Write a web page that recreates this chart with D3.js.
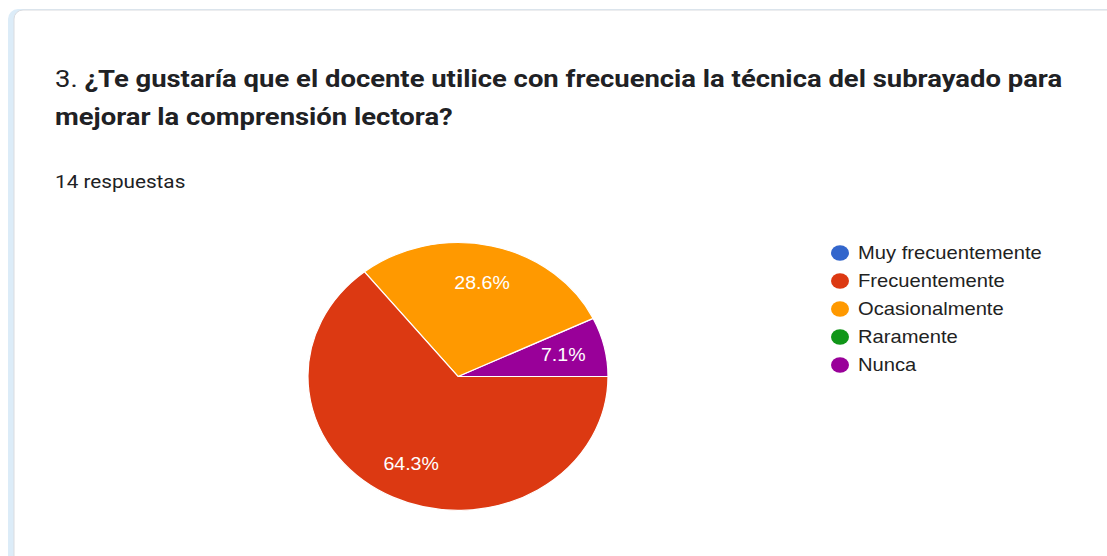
<!DOCTYPE html>
<html>
<head>
<meta charset="utf-8">
<script src="https://cdn.jsdelivr.net/npm/d3@7"></script>
<style>
  html, body { margin: 0; padding: 0; background: #ffffff; }
  svg { display: block; }
</style>
</head>
<body>
<div id="chart"></div>
<script>
// chart data
const categories = ["Muy frecuentemente", "Frecuentemente", "Ocasionalmente", "Raramente", "Nunca"];
const counts = [0, 9, 4, 0, 1];
const colors = ["#3366cc", "#dc3912", "#ff9900", "#109618", "#990099"];
const titleNumber = "3.";
const titleLines = ["¿Te gustaría que el docente utilice con frecuencia la técnica del subrayado para",
                    "mejorar la comprensión lectora?"];
const responsesText = "14 respuestas";

const width = 1107, height = 556;
// the screenshot is a bit wider than tall
const sx = 1.12, sy = 1 / 1.12;

let svg = d3.select("#chart").append("svg")
    .attr("width", width)
    .attr("height", height);

// card background with left blue strip
svg.append("rect")
    .attr("x", 8).attr("y", 9)
    .attr("width", width + 20).attr("height", height + 20)
    .attr("rx", 10)
    .attr("fill", "#dcecf8");
svg.append("rect")
    .attr("x", 14).attr("y", 10)
    .attr("width", width + 20).attr("height", height + 20)
    .attr("rx", 9)
    .attr("fill", "#ffffff")
    .attr("stroke", "#dadce0")
    .attr("stroke-width", 1);

// helper: text group stretched horizontally
function stretchedText(x, y) {
    return svg.append("g")
        .attr("transform", "translate(" + x + "," + y + ") scale(" + sx + ",1)")
        .append("text");
}

// title
let title = stretchedText(55, 87)
    .attr("font-family", "Roboto, Arial, sans-serif")
    .attr("font-size", 24.5)
    .attr("fill", "#202124");
title.append("tspan").text(titleNumber + " ");
title.append("tspan").attr("font-weight", "bold").text(titleLines[0]);

stretchedText(55, 125)
    .attr("font-family", "Roboto, Arial, sans-serif")
    .attr("font-size", 24.5)
    .attr("font-weight", "bold")
    .attr("fill", "#202124")
    .text(titleLines[1]);

stretchedText(55, 188)
    .attr("font-family", "Roboto, Arial, sans-serif")
    .attr("font-size", 18.5)
    .attr("fill", "#202124")
    .text(responsesText);

// pie
const cx = 458, cy = 376.5, radius = 150;
const total = d3.sum(counts);

let slices = categories.map(function(c, i){
    return {name: c, value: counts[i], color: colors[i]};
}).reverse();

// starts at 3 o'clock and goes counterclockwise
let pie = d3.pie()
    .value(d => d.value)
    .sort(null)
    .startAngle(Math.PI / 2)
    .endAngle(Math.PI / 2 - 2 * Math.PI);

let arc = d3.arc().innerRadius(0).outerRadius(radius);
let labelArc = d3.arc().innerRadius(108).outerRadius(108);

let arcs = pie(slices).filter(d => d.data.value > 0);

let pieG = svg.append("g")
    .attr("transform", "translate(" + cx + "," + cy + ") scale(1," + sy + ")");

pieG.selectAll("path")
    .data(arcs)
    .enter().append("path")
    .attr("d", arc)
    .attr("fill", d => d.data.color)
    .attr("stroke", "#ffffff")
    .attr("stroke-width", 1.2)
    .attr("vector-effect", "non-scaling-stroke");

let labelG = svg.append("g")
    .attr("transform", "translate(" + cx + "," + cy + ")");

labelG.selectAll("g")
    .data(arcs)
    .enter().append("g")
    .attr("transform", function(d){
        let c = labelArc.centroid(d);
        return "translate(" + c[0] + "," + (c[1] * sy) + ") scale(" + sx + ",1)";
    })
    .append("text")
    .attr("text-anchor", "middle")
    .attr("dy", "0.36em")
    .attr("font-family", "Arial, 'Liberation Sans', sans-serif")
    .attr("font-size", 17.5)
    .attr("fill", "#ffffff")
    .text(d => (d.data.value / total * 100).toFixed(1) + "%");

// legend
let legend = svg.append("g")
    .attr("font-family", "Arial, 'Liberation Sans', sans-serif")
    .attr("font-size", 18)
    .selectAll("g")
    .data(categories)
    .enter().append("g")
    .attr("transform", (d, i) => "translate(840," + (253 + i * 28) + ")");

legend.append("ellipse")
    .attr("rx", 9)
    .attr("ry", 7.8)
    .attr("fill", (d, i) => colors[i]);

legend.append("g")
    .attr("transform", "translate(18,0) scale(" + sx + ",1)")
    .append("text")
    .attr("dy", "0.35em")
    .attr("fill", "#222222")
    .text(d => d);
</script>
</body>
</html>
